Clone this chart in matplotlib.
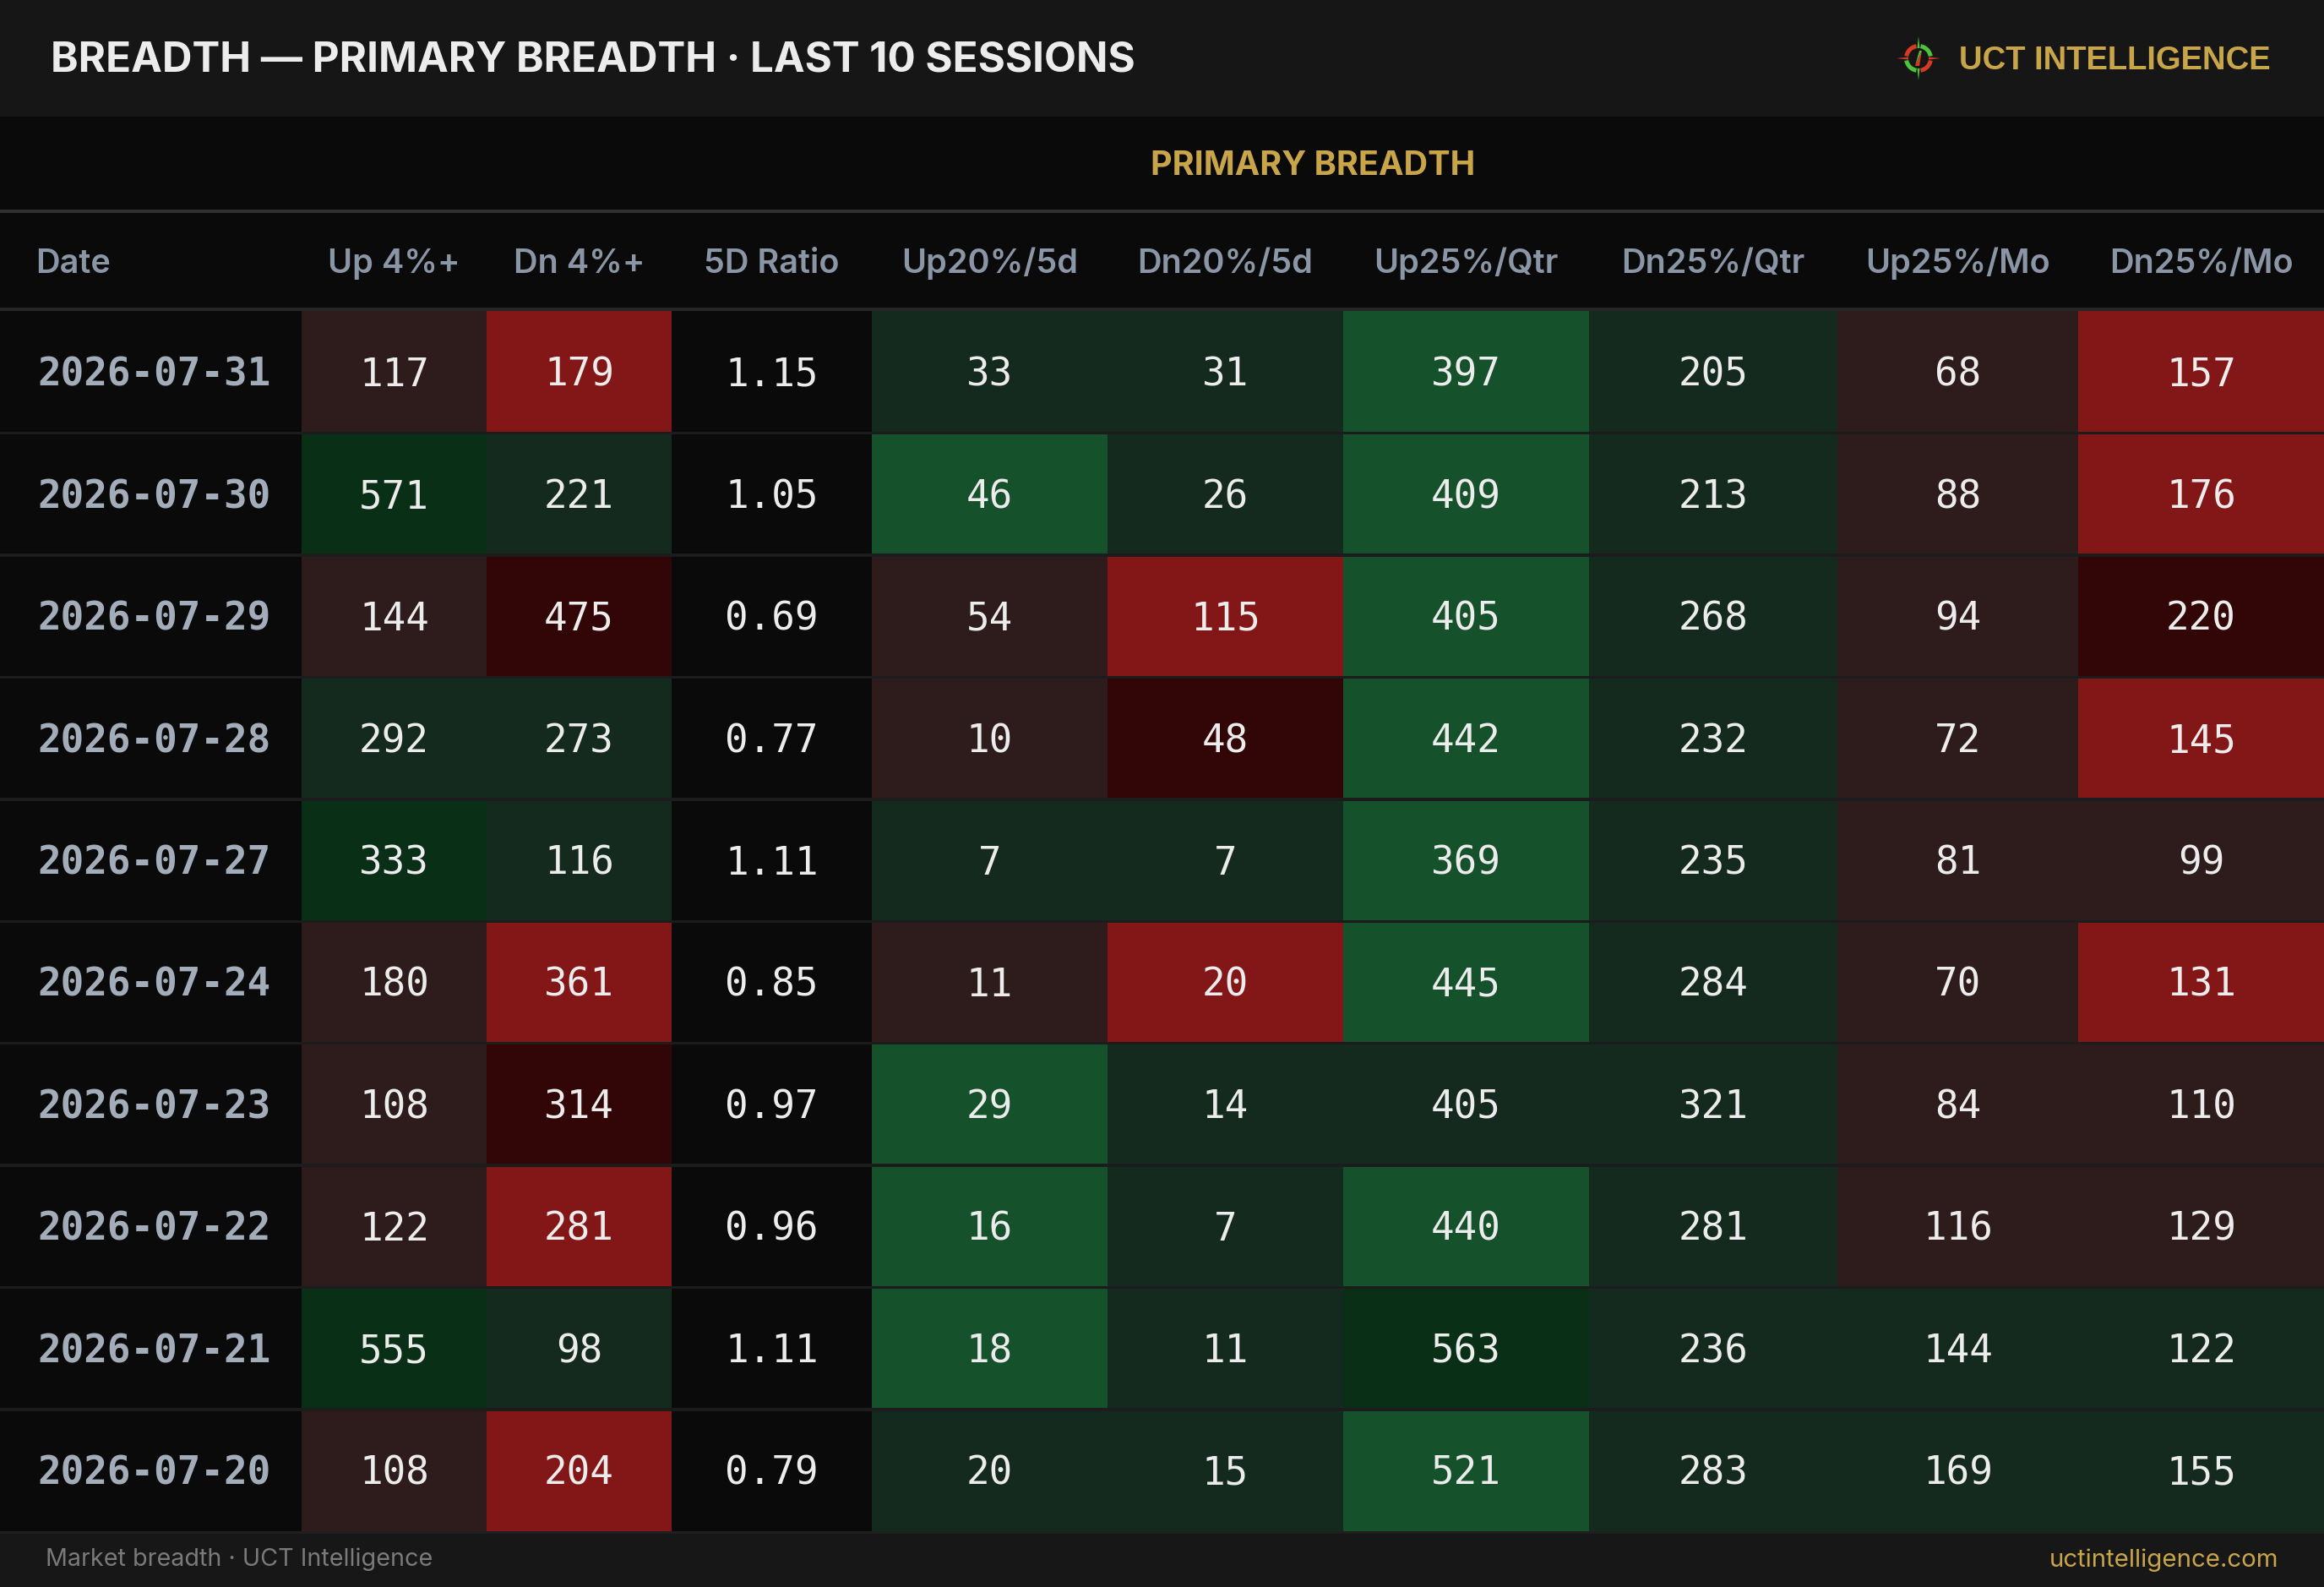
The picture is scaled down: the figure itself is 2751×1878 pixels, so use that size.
import matplotlib
matplotlib.use("Agg")
import matplotlib.pyplot as plt
from matplotlib.patches import Rectangle, Wedge, Polygon

# --- data ---
dates = ['2026-07-31', '2026-07-30', '2026-07-29', '2026-07-28', '2026-07-27',
         '2026-07-24', '2026-07-23', '2026-07-22', '2026-07-21', '2026-07-20']
columns = ['Up 4%+', 'Dn 4%+', '5D Ratio', 'Up20%/5d', 'Dn20%/5d',
           'Up25%/Qtr', 'Dn25%/Qtr', 'Up25%/Mo', 'Dn25%/Mo']

up4 = [117, 571, 144, 292, 333, 180, 108, 122, 555, 108]
dn4 = [179, 221, 475, 273, 116, 361, 314, 281, 98, 204]
ratio5d = [1.15, 1.05, 0.69, 0.77, 1.11, 0.85, 0.97, 0.96, 1.11, 0.79]
up20_5d = [33, 46, 54, 10, 7, 11, 29, 16, 18, 20]
dn20_5d = [31, 26, 115, 48, 7, 20, 14, 7, 11, 15]
up25_qtr = [397, 409, 405, 442, 369, 445, 405, 440, 563, 521]
dn25_qtr = [205, 213, 268, 232, 235, 284, 321, 281, 236, 283]
up25_mo = [68, 88, 94, 72, 81, 70, 84, 116, 144, 169]
dn25_mo = [157, 176, 220, 145, 99, 131, 110, 129, 122, 155]

# heat grade of each cell (negative = bearish, positive = bullish)
up4_heat = [-1, 3, -1, 1, 3, -1, -1, -1, 3, -1]
dn4_heat = [-2, 1, -3, 1, 1, -2, -3, -2, 1, -2]
ratio_heat = [0, 0, 0, 0, 0, 0, 0, 0, 0, 0]
up20_heat = [1, 2, -1, -1, 1, -1, 2, 2, 2, 1]
dn20_heat = [1, 1, -2, -3, 1, -2, 1, 1, 1, 1]
up25q_heat = [2, 2, 2, 2, 2, 2, 1, 2, 3, 2]
dn25q_heat = [1, 1, 1, 1, 1, 1, 1, 1, 1, 1]
up25m_heat = [-1, -1, -1, -1, -1, -1, -1, -1, 1, 1]
dn25m_heat = [-2, -2, -3, -2, -1, -2, -1, -1, 1, 1]

values = [up4, dn4, [f"{v:.2f}" for v in ratio5d], up20_5d, dn20_5d,
          up25_qtr, dn25_qtr, up25_mo, dn25_mo]
heats = [up4_heat, dn4_heat, ratio_heat, up20_heat, dn20_heat,
         up25q_heat, dn25q_heat, up25m_heat, dn25m_heat]

# --- style ---
W, H = 2751, 1878
tone = {0: '#0a0a0a', -1: '#2e1b1b', -2: '#831717', -3: '#320606',
        1: '#142a1f', 2: '#15512a', 3: '#0a2f17'}
GOLD = '#c9a54a'
col_edges = [0, 357, 576, 795, 1032, 1311, 1590, 1881, 2175, 2460, 2751]
row_top, row_bot = 368, 1812
row_h = (row_bot - row_top) / len(dates)

fig = plt.figure(figsize=(W / 100, H / 100), dpi=100)
fig.patch.set_facecolor('#0a0a0a')
ax = fig.add_axes([0, 0, 1, 1])
ax.set_xlim(0, W)
ax.set_ylim(H, 0)
ax.axis('off')


def put(x, yc, s, size, cap=0.73, **kw):
    # place text so its cap height is centred on yc
    ax.text(x, yc + cap * size * 100 / 72 / 2, s, fontsize=size, va='baseline', **kw)


# header bar
ax.add_patch(Rectangle((0, 0), W, 138, color='#161616', lw=0))
put(60, 67, 'BREADTH — PRIMARY BREADTH · LAST 10 SESSIONS', 35.5, color='#ececec',
    family='Inter', weight='bold')
put(2688, 68, 'UCT INTELLIGENCE', 27.5, cap=0.716, color=GOLD,
    family='Liberation Sans', weight='bold', ha='right')

# logo
cx, cy = 2271, 69
for t1, t2, c in [(10, 80, '#4cc33a'), (100, 170, '#d63a26'),
                  (190, 260, '#4cc33a'), (280, 350, '#d63a26')]:
    ax.add_patch(Wedge((cx, cy), 17, -t2, -t1, width=5, color=c, lw=0))
for dx, dy, c in [(0, -1, '#4cc33a'), (0, 1, '#4cc33a'), (-1, 0, '#d63a26'), (1, 0, '#d63a26')]:
    px, py = -dy, dx
    ax.add_patch(Polygon([(cx + dx * 12 + px * 1.5, cy + dy * 12 + py * 1.5),
                          (cx + dx * 26, cy + dy * 26),
                          (cx + dx * 12 - px * 1.5, cy + dy * 12 - py * 1.5)], color=c, lw=0))
ax.add_patch(Polygon([(cx - 4, cy + 9), (cx + 1, cy - 9), (cx + 4, cy - 9)], color='#4cc33a', lw=0))
ax.add_patch(Polygon([(cx - 4, cy + 9), (cx + 4, cy - 9), (cx + 1, cy + 9)], color='#d63a26', lw=0))

# group header
put((col_edges[1] + W) / 2, 193, 'PRIMARY BREADTH', 28.5, color=GOLD,
    family='Inter', weight='bold', ha='center')
ax.add_patch(Rectangle((0, 248), W, 4, color='#303030', lw=0))

# column headers
put(42, 309, 'Date', 28.5, color='#8a96a6', family='Inter', weight='semibold')
for j, name in enumerate(columns):
    put((col_edges[j + 1] + col_edges[j + 2]) / 2, 309, name, 28.5, color='#8a96a6',
        family='Inter', weight='semibold', ha='center')
ax.add_patch(Rectangle((0, 364), W, 4, color='#262626', lw=0))

# body cells
for i, d in enumerate(dates):
    y0 = row_top + i * row_h
    yc = y0 + row_h / 2
    put(44, yc, d, 33, cap=0.729, color='#a3adb9', family='DejaVu Sans Mono', weight='bold')
    for j in range(len(columns)):
        x0, x1 = col_edges[j + 1], col_edges[j + 2]
        ax.add_patch(Rectangle((x0, y0), x1 - x0, row_h, color=tone[heats[j][i]], lw=0))
        put((x0 + x1) / 2, yc, str(values[j][i]), 33, cap=0.729, color='#ececec',
            family='DejaVu Sans Mono', ha='center')
    if i > 0:
        ax.add_patch(Rectangle((0, y0 - 1.5), W, 3.5, color='#1c1c1c', lw=0))

# footer
ax.add_patch(Rectangle((0, row_bot), W, H - row_bot, color='#171717', lw=0))
ax.add_patch(Rectangle((0, row_bot), W, 3, color='#1f1f1f', lw=0))
put(54, 1843, 'Market breadth · UCT Intelligence', 20.7, color='#7a7a7a', family='Inter')
put(2697, 1843, 'uctintelligence.com', 21.2, color=GOLD, family='Inter', ha='right')

fig.savefig('out.png', dpi=100, facecolor=fig.get_facecolor())
